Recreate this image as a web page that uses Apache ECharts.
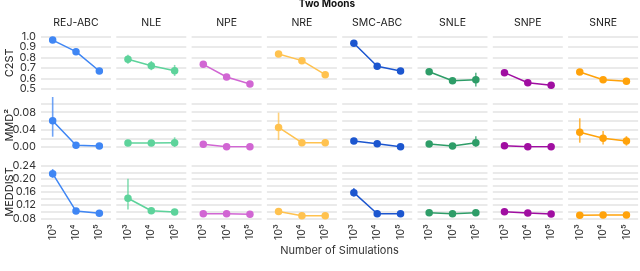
<!DOCTYPE html>
<html><head><meta charset="utf-8">
<script src="https://cdn.jsdelivr.net/npm/echarts@6/dist/echarts.min.js"></script>
<style>html,body{margin:0;padding:0;background:#fff}#c{width:640px;height:271px}</style>
</head><body><div id="c"></div>
<script>
const methods = ['REJ-ABC','NLE','NPE','NRE','SMC-ABC','SNLE','SNPE','SNRE'];
const colors = ['#3f86f4','#5dd39b','#d166d3','#ffc24f','#1c56cf','#2e9d68','#a00ea1','#ffa20a'];
const sims = ['10³','10⁴','10⁵'];
const metricNames = ['C2ST','MMD²','MEDDIST'];

// C2ST means per method (10^3, 10^4, 10^5)
const c2stMean = [
  [0.968,0.857,0.672],[0.784,0.723,0.675],[0.736,0.615,0.548],[0.835,0.771,0.637],
  [0.937,0.717,0.672],[0.665,0.579,0.589],[0.656,0.560,0.535],[0.662,0.589,0.574]
];
const c2stLo = [
  [null,null,null],[0.742,0.680,0.625],[null,null,null],[null,null,null],
  [null,null,null],[null,null,0.525],[null,null,null],[null,null,null]
];
const c2stHi = [
  [null,null,null],[0.828,0.768,0.730],[null,null,null],[null,null,null],
  [null,null,null],[null,null,0.655],[null,null,null],[null,null,null]
];
// MMD^2
const mmdMean = [
  [0.0605,0.0040,0.0023],[0.0092,0.0090,0.0095],[0.0062,0.0007,0.0007],[0.0450,0.0099,0.0099],
  [0.0138,0.0076,0.0007],[0.0069,0.0023,0.0099],[0.0030,0.0005,0.0005],[0.0338,0.0200,0.0138]
];
const mmdLo = [
  [0.0237,null,null],[null,null,0.0000],[null,null,null],[0.0160,null,null],
  [0.0090,null,null],[null,null,0.0005],[null,null,null],[0.0099,0.0060,0.0030]
];
const mmdHi = [
  [0.1150,null,null],[null,null,0.0223],[null,null,null],[0.0790,null,null],
  [0.0190,null,null],[null,null,0.0250],[null,null,null],[0.0660,0.0370,0.0250]
];
// MEDDIST
const medMean = [
  [0.2157,0.102,0.095],[0.141,0.103,0.099],[0.094,0.094,0.092],[0.101,0.088,0.088],
  [0.158,0.094,0.094],[0.097,0.094,0.097],[0.100,0.096,0.093],[0.089,0.090,0.090]
];
const medLo = [
  [0.203,null,null],[0.107,null,0.095],[null,null,null],[null,null,null],
  [0.146,null,null],[null,null,null],[null,null,null],[null,null,null]
];
const medHi = [
  [0.230,null,null],[0.200,null,0.104],[null,null,null],[null,null,null],
  [0.172,null,null],[null,null,null],[null,null,null],[null,null,null]
];

// y ranges, gridline step and tick labels (bottom to top, one per gridline)
const yTickMin = [0.5, 0.0, 0.08];
const yTickMax = [1.0, 0.10, 0.24];
const yTickStep = [0.1, 0.02, 0.02];
const c2stTicks = ['0.5','0.6','0.7','0.8','0.9','1.0'];
const mmdTicks = ['0.00','','0.04','','0.08',''];
const medTicks = ['0.08','','0.12','','0.16','','0.20','','0.24'];

// ---- layout ----
const FONT = 'Inter, "Liberation Sans", sans-serif';
const COL_LEFT = 41, COL_PITCH = 75.3, COL_W = 70;
const ROWS = [
  {top: 36.7, height: 52.3},
  {top: 103.5, height: 43.5},
  {top: 165.7, height: 52.6}
];
const rowData = [
  {mean: c2stMean, lo: c2stLo, hi: c2stHi, ticks: c2stTicks},
  {mean: mmdMean, lo: mmdLo, hi: mmdHi, ticks: mmdTicks},
  {mean: medMean, lo: medLo, hi: medHi, ticks: medTicks}
];

const grid = [], xAxis = [], yAxis = [], series = [], graphic = [];
let gi = 0;
for (let r = 0; r < 3; r++) {
  const d = rowData[r];
  for (let c = 0; c < methods.length; c++) {
    grid.push({left: COL_LEFT + c * COL_PITCH, width: COL_W, top: ROWS[r].top, height: ROWS[r].height});
    xAxis.push({
      type: 'category', gridIndex: gi, data: sims, boundaryGap: true,
      axisLine: {show: false}, axisTick: {show: false}, splitLine: {show: false},
      axisLabel: {show: r === 2, rotate: 90, margin: 6, fontSize: 10.5, color: '#333', fontFamily: FONT, interval: 0}
    });
    const yIdx = yAxis.length;
    yAxis.push({
      type: 'value', gridIndex: gi, min: yTickMin[r], max: yTickMax[r], interval: yTickStep[r],
      axisLine: {show: false}, axisTick: {show: false},
      splitLine: {show: true, lineStyle: {color: '#e3e3e3', width: 1.6}},
      axisLabel: {show: false}
    });
    if (c === 0) {
      // tick-label axis sharing the same gridlines
      yAxis.push({
        type: 'category', gridIndex: gi, data: d.ticks, boundaryGap: false, position: 'left',
        axisLine: {show: false}, axisTick: {show: false}, splitLine: {show: false},
        axisLabel: {show: true, interval: 0, margin: 5, fontSize: 11, color: '#333', fontFamily: FONT}
      });
    }
    const errData = [];
    for (let k = 0; k < sims.length; k++) {
      if (d.lo[c][k] !== null && d.hi[c][k] !== null) errData.push([k, d.lo[c][k], d.hi[c][k]]);
    }
    const col = colors[c];
    series.push({
      type: 'custom', xAxisIndex: gi, yAxisIndex: yIdx, data: errData, clip: false, z: 2,
      encode: {x: 0, y: [1, 2]},
      renderItem: function (params, api) {
        const x = api.value(0);
        const p1 = api.coord([x, api.value(1)]);
        const p2 = api.coord([x, api.value(2)]);
        return {type: 'line', shape: {x1: p1[0], y1: p1[1], x2: p2[0], y2: p2[1]},
          style: {stroke: col, lineWidth: 1.6, opacity: 0.75}};
      }
    });
    series.push({
      type: 'line', xAxisIndex: gi, yAxisIndex: yIdx, data: d.mean[c], z: 3,
      symbol: 'circle', symbolSize: 7.5, showSymbol: true,
      lineStyle: {color: col, width: 1.5}, itemStyle: {color: col},
      animation: false
    });
    gi++;
  }
}

// panel titles
for (let c = 0; c < methods.length; c++) {
  graphic.push({type: 'text', x: COL_LEFT + c * COL_PITCH + COL_W / 2, y: 22.5,
    style: {text: methods[c], textAlign: 'center', textVerticalAlign: 'middle', fontSize: 10.5, fill: '#222', fontFamily: FONT}});
}
// row labels
for (let r = 0; r < 3; r++) {
  graphic.push({type: 'text', x: 10, y: ROWS[r].top + ROWS[r].height / 2, rotation: Math.PI / 2,
    style: {text: metricNames[r], textAlign: 'center', textVerticalAlign: 'middle', fontSize: 11, fill: '#222', fontFamily: FONT}});
}
graphic.push({type: 'text', x: 327, y: 4,
  style: {text: 'Two Moons', textAlign: 'center', textVerticalAlign: 'middle', fontSize: 10, fontWeight: 'bold', fill: '#111', fontFamily: FONT}});
graphic.push({type: 'text', x: 339.5, y: 251,
  style: {text: 'Number of Simulations', textAlign: 'center', textVerticalAlign: 'middle', fontSize: 11, fill: '#333', fontFamily: FONT}});

const chart = echarts.init(document.getElementById('c'), null, {renderer: 'canvas'});
chart.setOption({animation: false, grid, xAxis, yAxis, series, graphic});
</script></body></html>
